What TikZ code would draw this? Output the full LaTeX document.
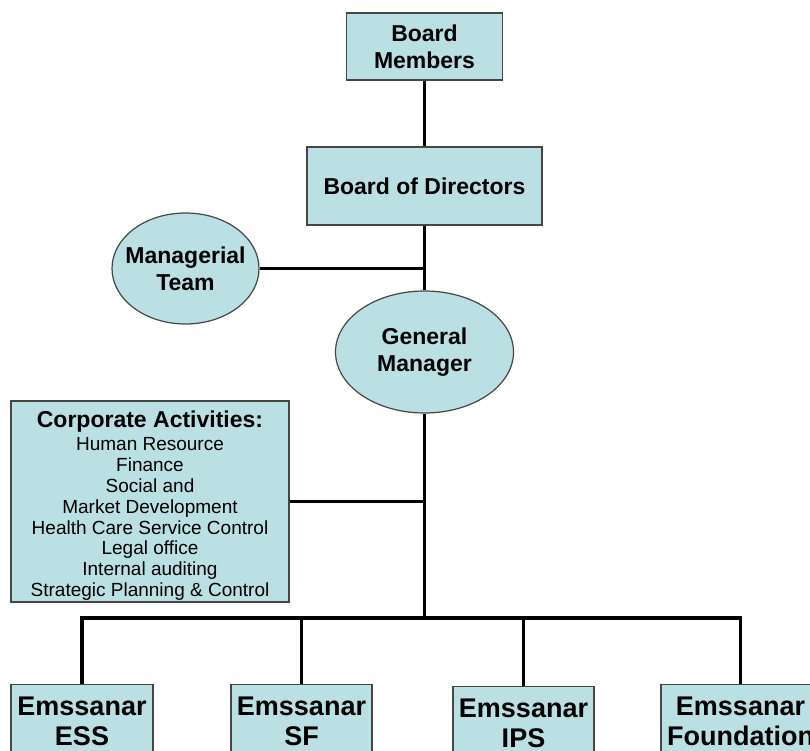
\documentclass[tikz,border=0pt]{standalone}
\usepackage{fontspec}
\setmainfont{Liberation Sans}
\usepackage{xcolor}
\usepackage{tikz}
\usetikzlibrary{shapes.geometric}
\definecolor{unitfill}{RGB}{187,224,227}
\definecolor{unitline}{RGB}{70,70,70}

\begin{document}
\begin{tikzpicture}[x=1pt, y=-1pt,
  unit/.style={draw=unitline, line width=1.2pt, fill=unitfill, align=center, inner sep=0pt},
  oval/.style={unit, ellipse},
  head/.style={font=\fontsize{23}{27}\selectfont\bfseries},
  branch/.style={unit, anchor=north, inner ysep=12pt, font=\fontsize{27}{30}\selectfont\bfseries},
  link/.style={line width=3.2pt}]
  \useasboundingbox (0,0) rectangle (810,751);

  % Top of the organisation
  \node[unit, head, minimum width=156, minimum height=67] (bm) at (424.5,46.5) {Board\\Members};
  \node[unit, head, minimum width=235, minimum height=78] (bod) at (424.5,186) {Board of Directors};
  \node[oval, minimum width=147, minimum height=111,
        label={[head, align=center]center:Managerial\\Team}] (mt) at (185.5,268.5) {};
  \node[oval, head, minimum width=178, minimum height=122] (gm) at (424.5,352) {General\\Manager};

  % Corporate activities
  \node[unit, minimum width=278, minimum height=201, font=\fontsize{19}{20.8}\selectfont] (ca) at (150,501.5)
    {\rule{0pt}{25.5pt}{\fontsize{23}{23}\selectfont\bfseries Corporate Activities:}\\[2.2pt]
     Human Resource\\ Finance\\ Social and\\ Market Development\\ Health Care Service Control\\
     Legal office\\ Internal auditing\\ Strategic Planning \& Control};

  % The four companies
  \node[branch, minimum width=142] (ess) at (82,684) {Emssanar\\ESS};
  \node[branch, minimum width=141] (sf) at (301.5,684) {Emssanar\\SF};
  \node[branch, minimum width=141] (ips) at (523.5,686) {Emssanar\\IPS};
  \node[branch, minimum width=159] (fnd) at (740.5,684) {Emssanar\\Foundation};

  % Connectors
  \coordinate (bus) at (424.5,618);
  \coordinate (mtj) at (bod.south |- mt.east);
  \coordinate (caj) at (bus |- ca.east);
  \draw[link] (bm.south) -- (bod.north);
  \draw[link] (bod.south) -- (gm.north);
  \draw[link] (mt.east) -- (mtj);
  \draw[link] (gm.south) -- (bus);
  \draw[link] (ca.east) -- (caj);
  \draw[link] (ess.north) |- (bus) -| (fnd.north);
  \draw[link] (sf.north) -- (sf.north |- bus);
  \draw[link] (ips.north) -- (ips.north |- bus);
\end{tikzpicture}
\end{document}
